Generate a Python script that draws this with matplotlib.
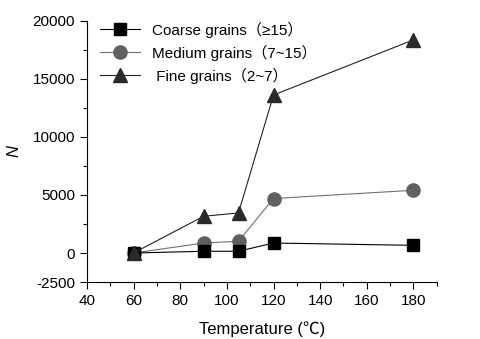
import matplotlib
matplotlib.use("Agg")
import matplotlib.pyplot as plt
from matplotlib.ticker import MultipleLocator

plt.rcParams['font.family'] = ['Liberation Sans', 'Noto Sans CJK SC', 'DejaVu Sans']
plt.rcParams['axes.unicode_minus'] = False

temps = [60, 90, 105, 120, 180]
coarse = [0, 150, 150, 860, 660]
medium = [0, 860, 1010, 4690, 5400]
fine = [0, 3160, 3450, 13600, 18350]

labels = ["Coarse grains（≥15）", "Medium grains（7~15）", " Fine grains（2~7）"]

fig = plt.figure(figsize=(4.8, 3.39), dpi=100)
ax = fig.add_axes([0.181, 0.168, 0.729, 0.771])

ax.plot(temps, coarse, color='black', lw=0.8, marker='s', ms=8.5,
        mfc='black', mec='black', label=labels[0], zorder=3)
ax.plot(temps, medium, color='#707070', lw=0.8, marker='o', ms=9.5,
        mfc='#606060', mec='#606060', label=labels[1], zorder=2)
ax.plot(temps, fine, color='#222222', lw=0.8, marker='^', ms=10,
        mfc='#2a2a2a', mec='#2a2a2a', label=labels[2], zorder=4)

ax.set_xlim(40, 190)
ax.set_ylim(-2500, 20000)
ax.xaxis.set_major_locator(MultipleLocator(20))
ax.xaxis.set_minor_locator(MultipleLocator(10))
ax.yaxis.set_minor_locator(MultipleLocator(2500))
ax.set_yticks([-2500, 0, 5000, 10000, 15000, 20000])

for s in ['top', 'right']:
    ax.spines[s].set_visible(False)
for s in ['left', 'bottom']:
    ax.spines[s].set_linewidth(0.8)
ax.tick_params(which='major', direction='out', length=5, width=0.8, labelsize=11)
ax.tick_params(which='minor', direction='out', length=3, width=0.8)

ax.set_xlabel("Temperature (℃)", fontsize=12, labelpad=10)
ax.set_ylabel("N", fontsize=12, fontstyle='italic', labelpad=8)

ax.legend(loc='upper left', frameon=False, fontsize=11, handlelength=2.6,
          borderaxespad=0.0, labelspacing=0.45, bbox_to_anchor=(0.02, 1.02))

fig.savefig("out.png", dpi=100)
